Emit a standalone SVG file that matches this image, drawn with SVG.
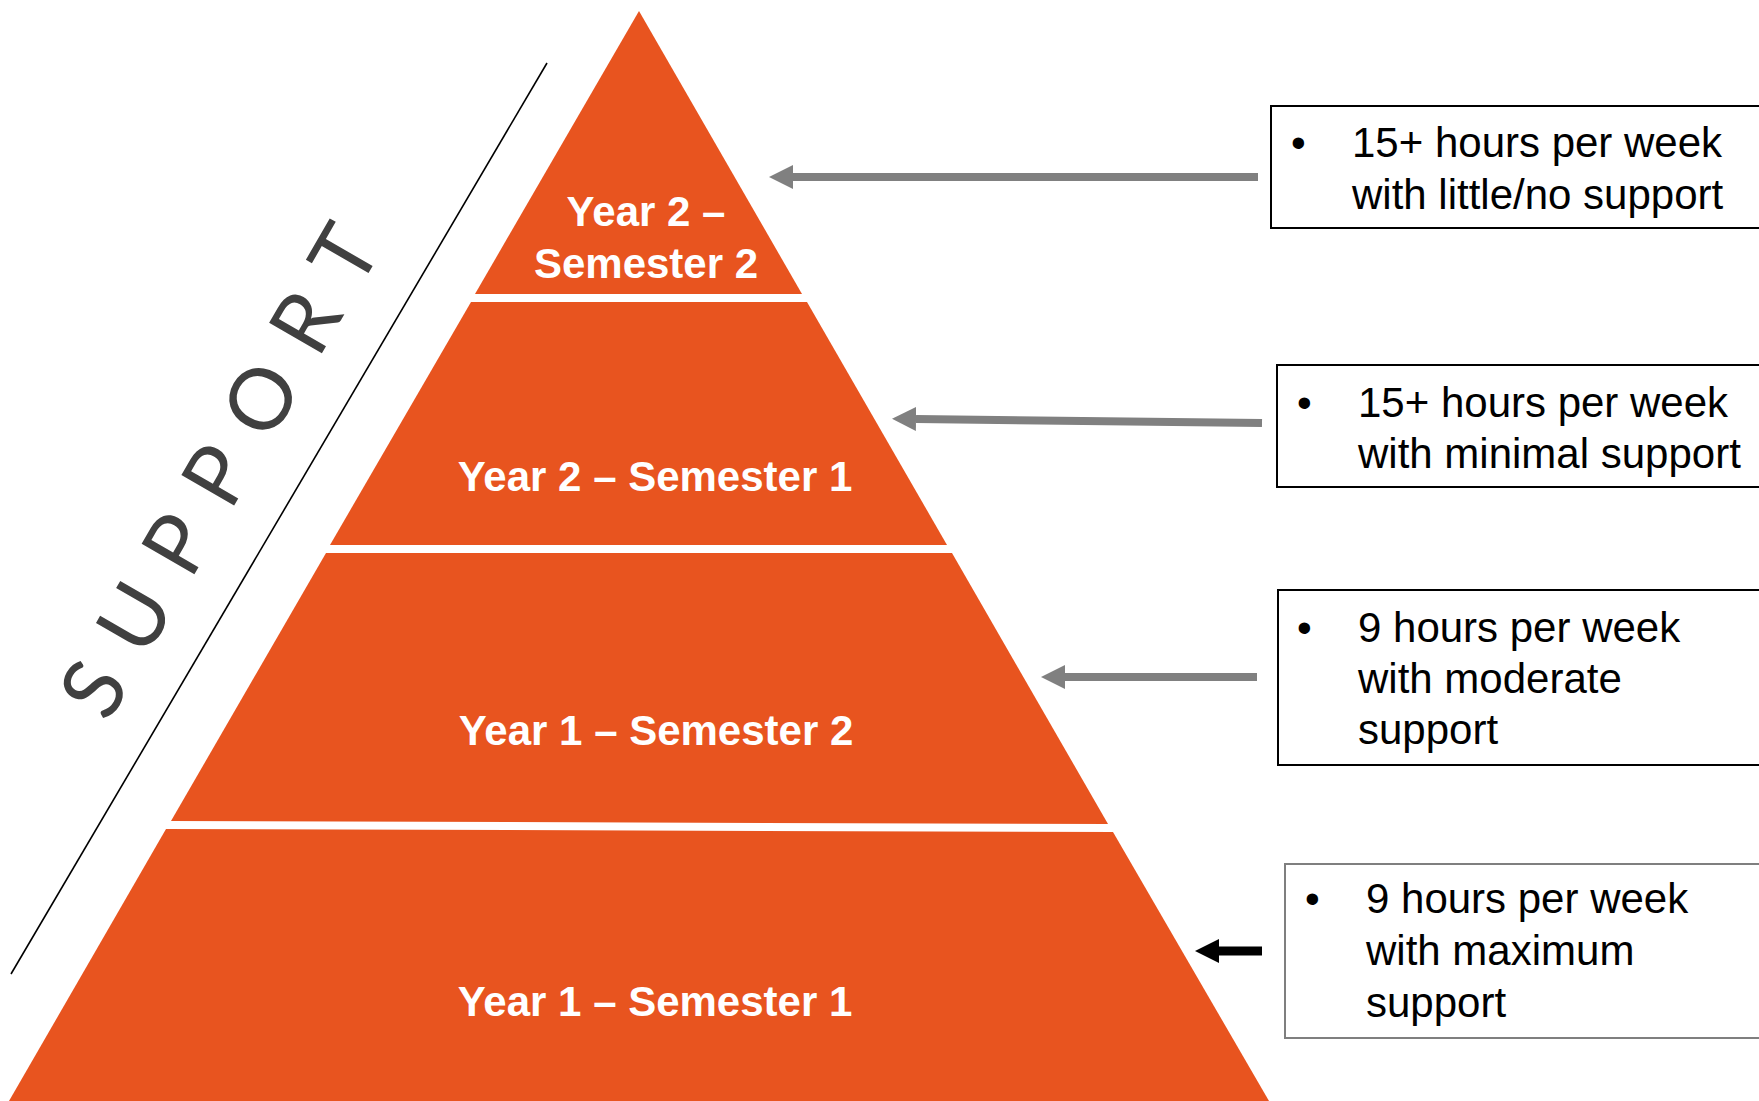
<svg xmlns="http://www.w3.org/2000/svg" width="1759" height="1101" viewBox="0 0 1759 1101">
<style>
.tier{fill:#E8541F}
.lbl{font-family:"Liberation Sans",Arial,sans-serif;font-weight:bold;font-size:42px;fill:#fff;text-anchor:middle}
.box{fill:#fff;stroke:#000;stroke-width:2}
.box4{fill:#fff;stroke:#7f7f7f;stroke-width:2}
.txt{font-family:"Liberation Sans",Arial,sans-serif;font-size:42px;fill:#000}
.sup{font-family:Lato,"Open Sans",sans-serif;font-size:85px;fill:#404040}
.arr{stroke:#808080;stroke-width:8;fill:none;marker-end:url(#ahg)}
.arrb{stroke:#000;stroke-width:9;fill:none;marker-end:url(#ahb)}
</style>
<defs>
<marker id="ahg" viewBox="0 0 24 24" markerWidth="24" markerHeight="24" markerUnits="userSpaceOnUse" refX="0" refY="12" orient="auto"><path d="M0,0 L24,12 L0,24 z" fill="#808080"/></marker>
<marker id="ahb" viewBox="0 0 24 24" markerWidth="24" markerHeight="24" markerUnits="userSpaceOnUse" refX="0" refY="12" orient="auto"><path d="M0,0 L24,12 L0,24 z" fill="#000"/></marker>
</defs>
<rect width="1759" height="1101" fill="#fff"/>

<g id="support-label">
<line x1="547" y1="63" x2="11" y2="974" stroke="#000" stroke-width="1.6"/>
<text class="sup" transform="translate(108,724) rotate(-60)" textLength="550" lengthAdjust="spacing">SUPPORT</text>
</g>

<g id="tier-y2s2">
<polygon class="tier" points="639,11 802,294 475,294"/>
<text class="lbl" x="646" y="226">Year 2 –</text>
<text class="lbl" x="646" y="278">Semester 2</text>
</g>
<g id="tier-y2s1">
<polygon class="tier" points="471,302 807,302 947,545 330,545"/>
<text class="lbl" x="655" y="491">Year 2 – Semester 1</text>
</g>
<g id="tier-y1s2">
<polygon class="tier" points="326,553 952,553 1108,824 171,821"/>
<text class="lbl" x="656" y="745">Year 1 – Semester 2</text>
</g>
<g id="tier-y1s1">
<polygon class="tier" points="166,829 1113,832 1269,1101 9,1101"/>
<text class="lbl" x="655" y="1016">Year 1 – Semester 1</text>
</g>

<g id="box-1">
<rect class="box" x="1271" y="106" width="520" height="122"/>
<text class="txt" x="1291" y="157">•</text>
<text class="txt" x="1352" y="157">15+ hours per week</text>
<text class="txt" x="1352" y="209">with little/no support</text>
</g>
<g id="box-2">
<rect class="box" x="1277" y="365" width="520" height="122"/>
<text class="txt" x="1297" y="417">•</text>
<text class="txt" x="1358" y="417">15+ hours per week</text>
<text class="txt" x="1358" y="468">with minimal support</text>
</g>
<g id="box-3">
<rect class="box" x="1278" y="590" width="520" height="175"/>
<text class="txt" x="1297" y="642">•</text>
<text class="txt" x="1358" y="642">9 hours per week</text>
<text class="txt" x="1358" y="693">with moderate</text>
<text class="txt" x="1358" y="744">support</text>
</g>
<g id="box-4">
<rect class="box4" x="1285" y="864" width="520" height="174"/>
<text class="txt" x="1305" y="913">•</text>
<text class="txt" x="1366" y="913">9 hours per week</text>
<text class="txt" x="1366" y="965">with maximum</text>
<text class="txt" x="1366" y="1017">support</text>
</g>

<g id="connectors">
<line class="arr" x1="1258" y1="177" x2="793" y2="177"/>
<line class="arr" x1="1262" y1="423" x2="916" y2="419"/>
<line class="arr" x1="1257" y1="677" x2="1065" y2="677"/>
<line class="arrb" x1="1262" y1="951" x2="1219" y2="951"/>
</g>
</svg>
